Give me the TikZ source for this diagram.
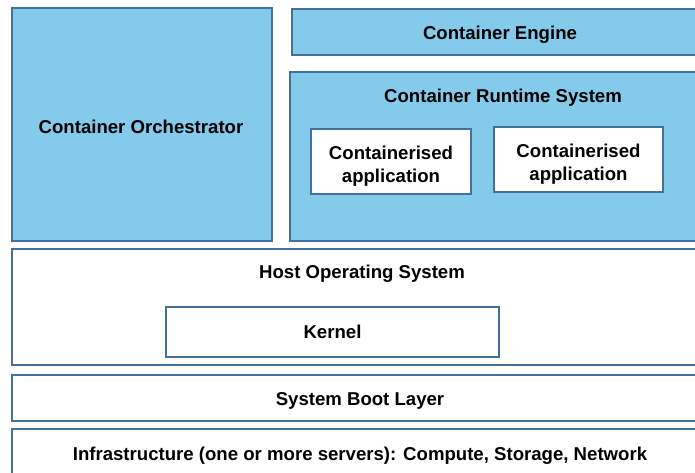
\documentclass[tikz,border=0pt]{standalone}
\usepackage{fontspec}
\setmainfont{Liberation Sans}
\definecolor{boxblue}{HTML}{83CAEB}
\definecolor{edgeblue}{HTML}{41719C}
\begin{document}
\begin{tikzpicture}[x=1pt,y=-1pt,
  layer/.style={draw=edgeblue,line width=1.2pt,inner sep=0pt},
  bluebox/.style={layer,fill=boxblue},
  whitebox/.style={layer,fill=white},
  lbl/.style={font=\bfseries\fontsize{18.6}{23}\selectfont,align=center,inner sep=0pt,text=black}]
\useasboundingbox (0,0) rectangle (695,472);
\clip (0,0) rectangle (695,472);
% top left
\node[bluebox,minimum width=260pt,minimum height=233pt] (orch) at (142,124.5) {};
\node[lbl] (orchT) at (141,127) {Container Orchestrator};
% engine
\node[bluebox,minimum width=420pt,minimum height=46pt] (eng) at (502,32) {};
\node[lbl] (engT) at (500,35) {Container Engine};
% runtime
\node[bluebox,minimum width=420pt,minimum height=169pt] (rt) at (500,156.5) {};
\node[lbl] (rtT) at (503,98) {Container Runtime System};
\node[whitebox,minimum width=160pt,minimum height=65pt] (app1) at (391,161.5) {};
\node[lbl] (app1T) at ([yshift=-4.5pt]app1.center) {Containerised\\application};
\node[whitebox,minimum width=169pt,minimum height=65pt] (app2) at (578.5,159.5) {};
\node[lbl] (app2T) at ([yshift=-4.5pt]app2.center) {Containerised\\application};
% host os
\node[whitebox,minimum width=700pt,minimum height=116pt] (host) at (362,307) {};
\node[lbl] (hostT) at (362,274) {Host Operating System};
\node[whitebox,minimum width=333pt,minimum height=50pt] (kern) at (332.5,332) {};
\node[lbl] (kernT) at (kern.center) {Kernel};
% boot
\node[whitebox,minimum width=700pt,minimum height=46pt] (boot) at (362,398) {};
\node[lbl] (bootT) at (360,401) {System Boot Layer};
% infra
\node[whitebox,minimum width=700pt,minimum height=60pt] (infra) at (362,459) {};
\node[lbl] (infraT) at (360,456) {Infrastructure (one or more servers): Compute, Storage, Network};
\end{tikzpicture}
\end{document}
